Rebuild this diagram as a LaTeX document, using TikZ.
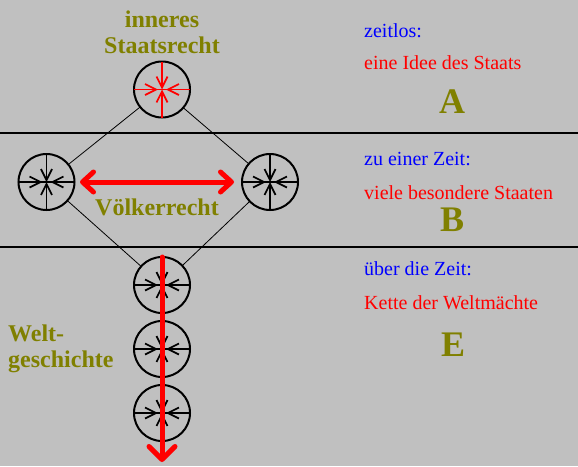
\documentclass[tikz,border=0pt]{standalone}
\usepackage{fontspec}
\setmainfont{Liberation Serif}
\usetikzlibrary{arrows.meta}
\definecolor{olivgruen}{RGB}{128,128,0}
\definecolor{hellgrau}{RGB}{192,192,192}

\begin{document}
\begin{tikzpicture}[x=1pt,y=-1pt,
  staat/.style={circle, draw, line width=2pt, minimum size=56pt, inner sep=0pt, outer sep=0pt},
  innen/.style={line width=1.7pt, -{Straight Barb[length=11pt,width=11pt]}},
  rotpfeil/.style={red, line width=5pt, line cap=round},
  marke/.style={olivgruen, font=\fontsize{24}{26}\selectfont\bfseries},
  zeile/.style={anchor=base west, inner sep=0pt, font=\fontsize{20}{22}\selectfont},
  buchstabe/.style={olivgruen, anchor=base, inner sep=0pt, font=\fontsize{36}{40}\selectfont\bfseries}]
\newcommand\Pfeile[2]{%
  \draw[#2, line width=1.7pt] (#1.west) -- (#1.east);
  \draw[innen, #2] (#1.west) -- ([xshift=-4pt]#1.center);
  \draw[innen, #2] (#1.east) -- ([xshift=4pt]#1.center);
  \draw[innen, #2] (#1.north) -- (#1.center);
  \draw[innen, #2] (#1.south) -- (#1.center);}

\fill[hellgrau] (0,0) rectangle (578,466);
\useasboundingbox (0,0) rectangle (578,466);

% Ebenen
\draw[line width=2pt] (0,133) -- (578,133);
\draw[line width=2pt] (0,246.5) -- (578,246.5);

% Staaten
\node[staat] (idee) at (162,89.5) {};
\node[staat] (staatL) at (46.5,182) {};
\node[staat] (staatR) at (270,182) {};
\node[staat] (welt1) at (162,285) {};
\node[staat] (welt2) at (162,349) {};
\node[staat] (welt3) at (162,413) {};
\coordinate (ende) at (162,462);

\draw[line width=0.8pt] (idee) -- (staatL);
\draw[line width=0.8pt] (idee) -- (staatR);
\draw[line width=0.8pt] (staatL) -- (welt1);
\draw[line width=0.8pt] (staatR) -- (welt1);

\Pfeile{idee}{red}
\Pfeile{staatL}{black}
\Pfeile{staatR}{black}
\Pfeile{welt1}{black}
\Pfeile{welt2}{black}
\Pfeile{welt3}{black}

\draw[rotpfeil, {Straight Barb[length=11pt,width=20pt,round]}-{Straight Barb[length=11pt,width=20pt,round]},
  shorten <=5.5pt, shorten >=8pt] (staatL) -- (staatR);
\draw[rotpfeil, -{Straight Barb[length=13pt,width=26pt,round]}] (welt1.north) -- (ende);

% Beschriftung links
\node[marke, align=center, anchor=base, inner sep=0pt] (staatsrecht) at (162,53) {inneres\\Staatsrecht};
\node[marke, anchor=base, inner sep=0pt] (voelkerrecht) at (157,215) {Völkerrecht};
\node[marke, align=left, anchor=base west, inner sep=0pt] (weltgeschichte) at (8,367) {Welt-\\geschichte};

% Beschriftung rechts
\node[zeile, blue] (zeitlos) at (364,37) {zeitlos:};
\node[zeile, red] (idee-text) at (364,69) {eine Idee des Staats};
\node[buchstabe] (A) at (452,113) {A};
\node[zeile, blue] (zeit) at (364,165) {zu einer Zeit:};
\node[zeile, red] (staaten) at (364,199) {viele besondere Staaten};
\node[buchstabe] (B) at (452,231) {B};
\node[zeile, blue] (ueber) at (364,275) {über die Zeit:};
\node[zeile, red] (kette) at (364,309) {Kette der Weltmächte};
\node[buchstabe] (E) at (453,356) {E};
\end{tikzpicture}
\end{document}
